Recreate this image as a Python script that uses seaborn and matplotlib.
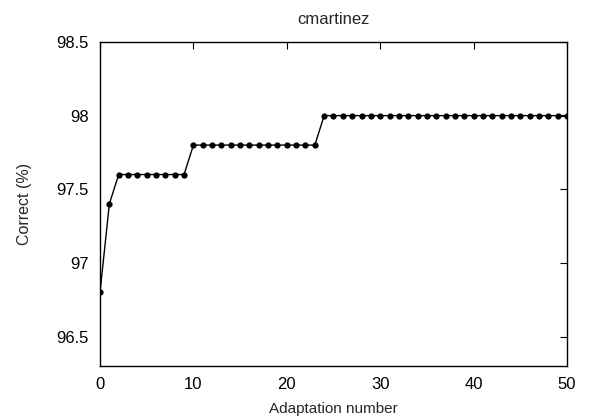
import numpy as np
import pandas as pd
import matplotlib
matplotlib.use('Agg')
import matplotlib.pyplot as plt
import seaborn as sns

# adaptation step vs. percent correct
adaptation = list(range(51))
correct = [96.8, 97.4] + [97.6] * 8 + [97.8] * 14 + [98.0] * 27

df = pd.DataFrame({'Adaptation number': adaptation, 'Correct (%)': correct})

sns.set_style('white')
plt.rcParams['font.family'] = ['Liberation Sans', 'DejaVu Sans']

fig = plt.figure(figsize=(6.01, 4.17), dpi=100)
ax = fig.add_axes([0.1664, 0.1223, 0.777, 0.777])

sns.lineplot(data=df, x='Adaptation number', y='Correct (%)', ax=ax,
             color='black', linewidth=1, marker='o', markersize=4.5,
             markeredgewidth=0)

ax.set_xlim(0, 50)
ax.set_ylim(96.3, 98.5)
ax.set_xticks([0, 10, 20, 30, 40, 50])
ax.set_yticks([96.5, 97, 97.5, 98, 98.5])
ax.set_yticklabels(['96.5', '97', '97.5', '98', '98.5'])
ax.tick_params(direction='in', length=5, width=0.8, top=True, right=True,
               labelsize=12, pad=8, colors='black')
for s in ax.spines.values():
    s.set_visible(True)
    s.set_color('black')
    s.set_linewidth(1)
ax.set_xlabel('Adaptation number', fontsize=11, labelpad=7)
ax.set_ylabel('Correct (%)', fontsize=11.5, labelpad=18)
ax.set_title('cmartinez', fontsize=12, pad=13)

fig.savefig('out.png', dpi=100)
